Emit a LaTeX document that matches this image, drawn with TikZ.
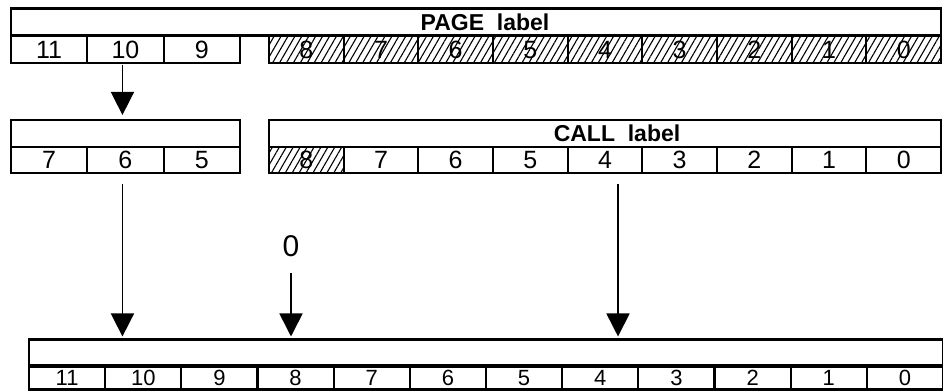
\documentclass[tikz,border=0pt]{standalone}
\usepackage{fontspec}
\setmainfont{Liberation Sans}
\usetikzlibrary{arrows.meta,patterns.meta,calc}

\begin{document}
\begin{tikzpicture}[
  x=1pt, y=1pt,
  line width=2.2pt,
  arr/.style={-{Triangle[length=23pt,width=23pt]}, line width=1.6pt},
  hdr/.style={draw, rectangle, inner sep=0pt, outer sep=0pt, minimum height=27pt},
  cell/.style={draw, rectangle, inner sep=0pt, outer sep=0pt, minimum height=26.5pt,
    text height=17.5pt, text depth=0pt, font=\fontsize{25}{25}\selectfont},
  wide/.style={minimum width=76.3pt},
  narrow/.style={minimum width=74.67pt},
  bits/.style={minimum width=76.17pt, minimum height=24pt,
    text height=15.8pt, font=\fontsize{22}{22}\selectfont},
  hatch/.style={pattern={Lines[angle=60,distance=6pt,line width=1.1pt]}},
  lbl/.style={inner sep=0pt, font=\bfseries\fontsize{23}{23}\selectfont}
]
  \useasboundingbox (0,0) rectangle (943,391);

  % PAGE register
  \node[hdr, minimum width=930pt] (phead) at (476,369) {};
  \node[lbl] (plabel) at (485,369) {PAGE\ \ label};
  \foreach \i in {9,10,11}
    \node[cell, wide] (p\i) at ({11+(11-\i+0.5)*76.3},341.5) {\i};
  \foreach \i in {0,...,8}
    \node[cell, narrow, hatch] (p\i) at ({269+(8-\i+0.5)*74.67},341.5) {\i};

  % middle register, high part
  \node[hdr, minimum width=229pt] (mhead) at (125.5,257.5) {};
  \foreach \i/\j in {7/0,6/1,5/2}
    \node[cell, wide] (m\i) at ({11+(\j+0.5)*76.3},231) {\i};

  % CALL register
  \node[hdr, minimum width=672pt] (chead) at (605,257.5) {};
  \node[lbl] (clabel) at (617,257.5) {CALL\ \ label};
  \node[cell, narrow, hatch] (c8) at ({269+0.5*74.67},231) {8};
  \foreach \i in {0,...,7}
    \node[cell, narrow] (c\i) at ({269+(8-\i+0.5)*74.67},231) {\i};

  % result register
  \node[hdr, minimum width=914pt] (bhead) at (486,38) {};
  \foreach \i in {0,...,11}
    \node[cell, bits] (b\i) at ({29+(11-\i+0.5)*76.17},13.5) {\i};

  % constant bit
  \node[inner sep=0pt, font=\fontsize{30}{30}\selectfont] (zero) at (291,145) {0};

  % transfers
  \draw[arr] ($(p10.south)+(-3,-2)$) -- ($(mhead.north -| p10.south)+(-3,5)$);
  \draw[arr] ($(m6.south)+(-3,-11)$) -- ($(bhead.north -| m6.south)+(-3,3)$);
  \draw[arr] ($(zero.south)+(0,-15)$) -- ($(bhead.north -| zero.south)+(0,3)$);
  \draw[arr] ($(c4.south)+(13,-11)$) -- ($(bhead.north -| c4.south)+(13,3)$);
\end{tikzpicture}
\end{document}
